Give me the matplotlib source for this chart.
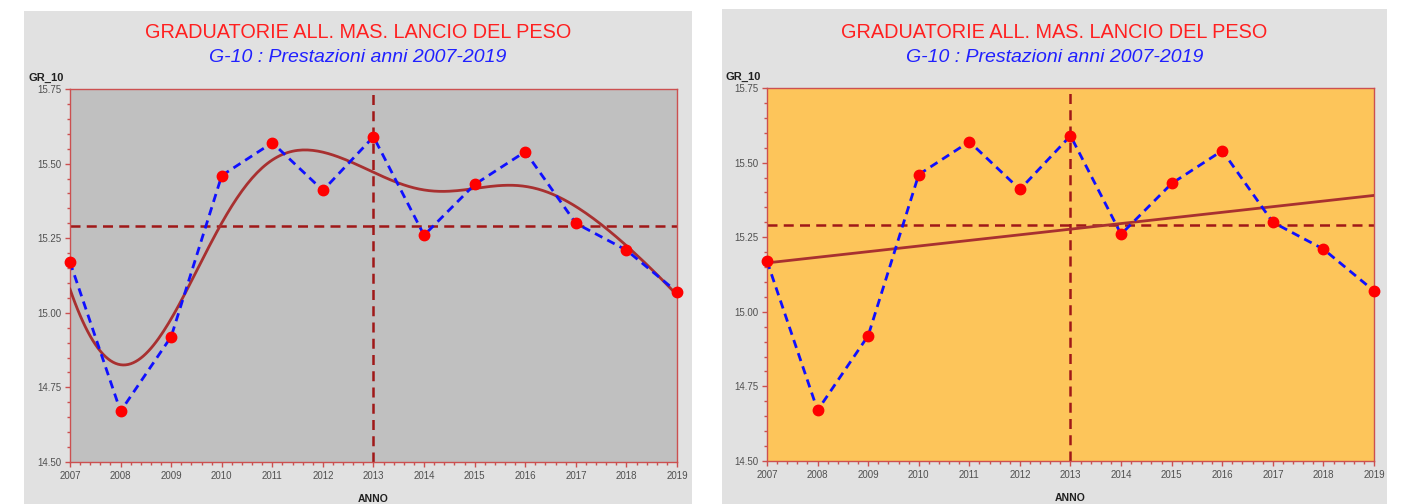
import numpy as np
import matplotlib.pyplot as plt
from matplotlib.patches import Rectangle
from matplotlib.ticker import MultipleLocator, FormatStrFormatter

plt.rcParams['font.family'] = ['Liberation Sans', 'DejaVu Sans']

# dati: G-10 lancio del peso, prestazioni 2007-2019
years = np.arange(2007, 2020)
gr_10 = [15.17, 14.67, 14.92, 15.46, 15.57, 15.41, 15.59, 15.26, 15.43, 15.54, 15.30, 15.21, 15.07]
ref_y = 15.29
ref_x = 2013

title = "GRADUATORIE ALL. MAS. LANCIO DEL PESO"
subtitle = "G-10 : Prestazioni anni 2007-2019"

RED_AX = '#cc5050'
DARKRED = '#a01818'


def smooth_curve(x, y, lam=1e6, step=0.05):
    # penalized smoother (third differences) on a fine grid
    grid = np.arange(x[0], x[-1] + step / 2, step)
    n = len(grid)
    w = np.zeros(n)
    yy = np.zeros(n)
    idx = np.round((x - x[0]) / step).astype(int)
    w[idx] = 1
    yy[idx] = y
    D = np.diff(np.eye(n), 3, axis=0)
    z = np.linalg.solve(np.diag(w) + lam * D.T @ D, w * yy)
    return grid, z


def draw_panel(fig, rect, ax_rect, face, fit):
    bg = Rectangle((rect[0], rect[1]), rect[2], rect[3],
                   transform=fig.transFigure, facecolor='#e1e1e1',
                   edgecolor='none', zorder=-5)
    fig.add_artist(bg)
    cx = rect[0] + rect[2] / 2
    fig.text(cx, 1 - 33 / 504, title, color='#ff2020', fontsize=14.3,
             ha='center', va='center')
    fig.text(cx, 1 - 57 / 504, subtitle, color='#2020ff', fontsize=14,
             style='italic', ha='center', va='center')

    ax = fig.add_axes(ax_rect)
    ax.set_zorder(2)
    ax.set_facecolor(face)
    x = np.array(years, dtype=float)
    y = np.array(gr_10)

    ax.axhline(ref_y, color=DARKRED, lw=1.8, ls=(0, (4, 2.5)), zorder=2)
    ax.axvline(ref_x, color=DARKRED, lw=1.8, ls=(0, (4, 2.5)), zorder=2)

    if fit == 'smooth':
        gx, gz = smooth_curve(x, y)
        ax.plot(gx, gz, color='#a83030', lw=2, zorder=3)
    else:
        c = np.polyfit(x - 2013, y, 1)
        ax.plot(x, np.polyval(c, x - 2013), color='#a83030', lw=2, zorder=3)

    ax.plot(x, y, color='#1010ff', lw=2, ls=(0, (3, 2)), zorder=4)
    ax.plot(x, y, 'o', color='#ff0000', ms=7.5, mec='#ff0000', zorder=5, clip_on=False)

    ax.set_xlim(2007, 2019)
    ax.set_ylim(14.5, 15.75)
    ax.xaxis.set_major_locator(MultipleLocator(1))
    ax.xaxis.set_minor_locator(MultipleLocator(0.2))
    ax.yaxis.set_major_locator(MultipleLocator(0.25))
    ax.yaxis.set_minor_locator(MultipleLocator(0.05))
    ax.yaxis.set_major_formatter(FormatStrFormatter('%.2f'))
    for s in ax.spines.values():
        s.set_color(RED_AX)
        s.set_linewidth(1)
    ax.tick_params(which='both', color=RED_AX, direction='out', labelsize=7,
                   labelcolor='#505050', pad=3)
    ax.tick_params(which='major', length=3.5, width=1)
    ax.tick_params(which='minor', length=2.5, width=1)
    ax.set_xlabel('ANNO', fontsize=7.5, fontweight='bold', color='#202020', labelpad=9)
    ax.text(-0.01, 1.015, 'GR_10', transform=ax.transAxes, fontsize=8,
            fontweight='bold', color='#202020', ha='right', va='bottom')
    return ax


fig = plt.figure(figsize=(14.01, 5.04), dpi=100)
fig.patch.set_facecolor('white')

W, H = 1401, 504
draw_panel(fig, (24 / W, 0, 668 / W, 493 / H),
           (70 / W, 42 / H, 607 / W, 373 / H), '#c0c0c0', 'smooth')
draw_panel(fig, (722 / W, 0, 665 / W, 495 / H),
           (767 / W, 43 / H, 607 / W, 373 / H), '#fdc55a', 'linear')

fig.savefig('out.png', dpi=100)
